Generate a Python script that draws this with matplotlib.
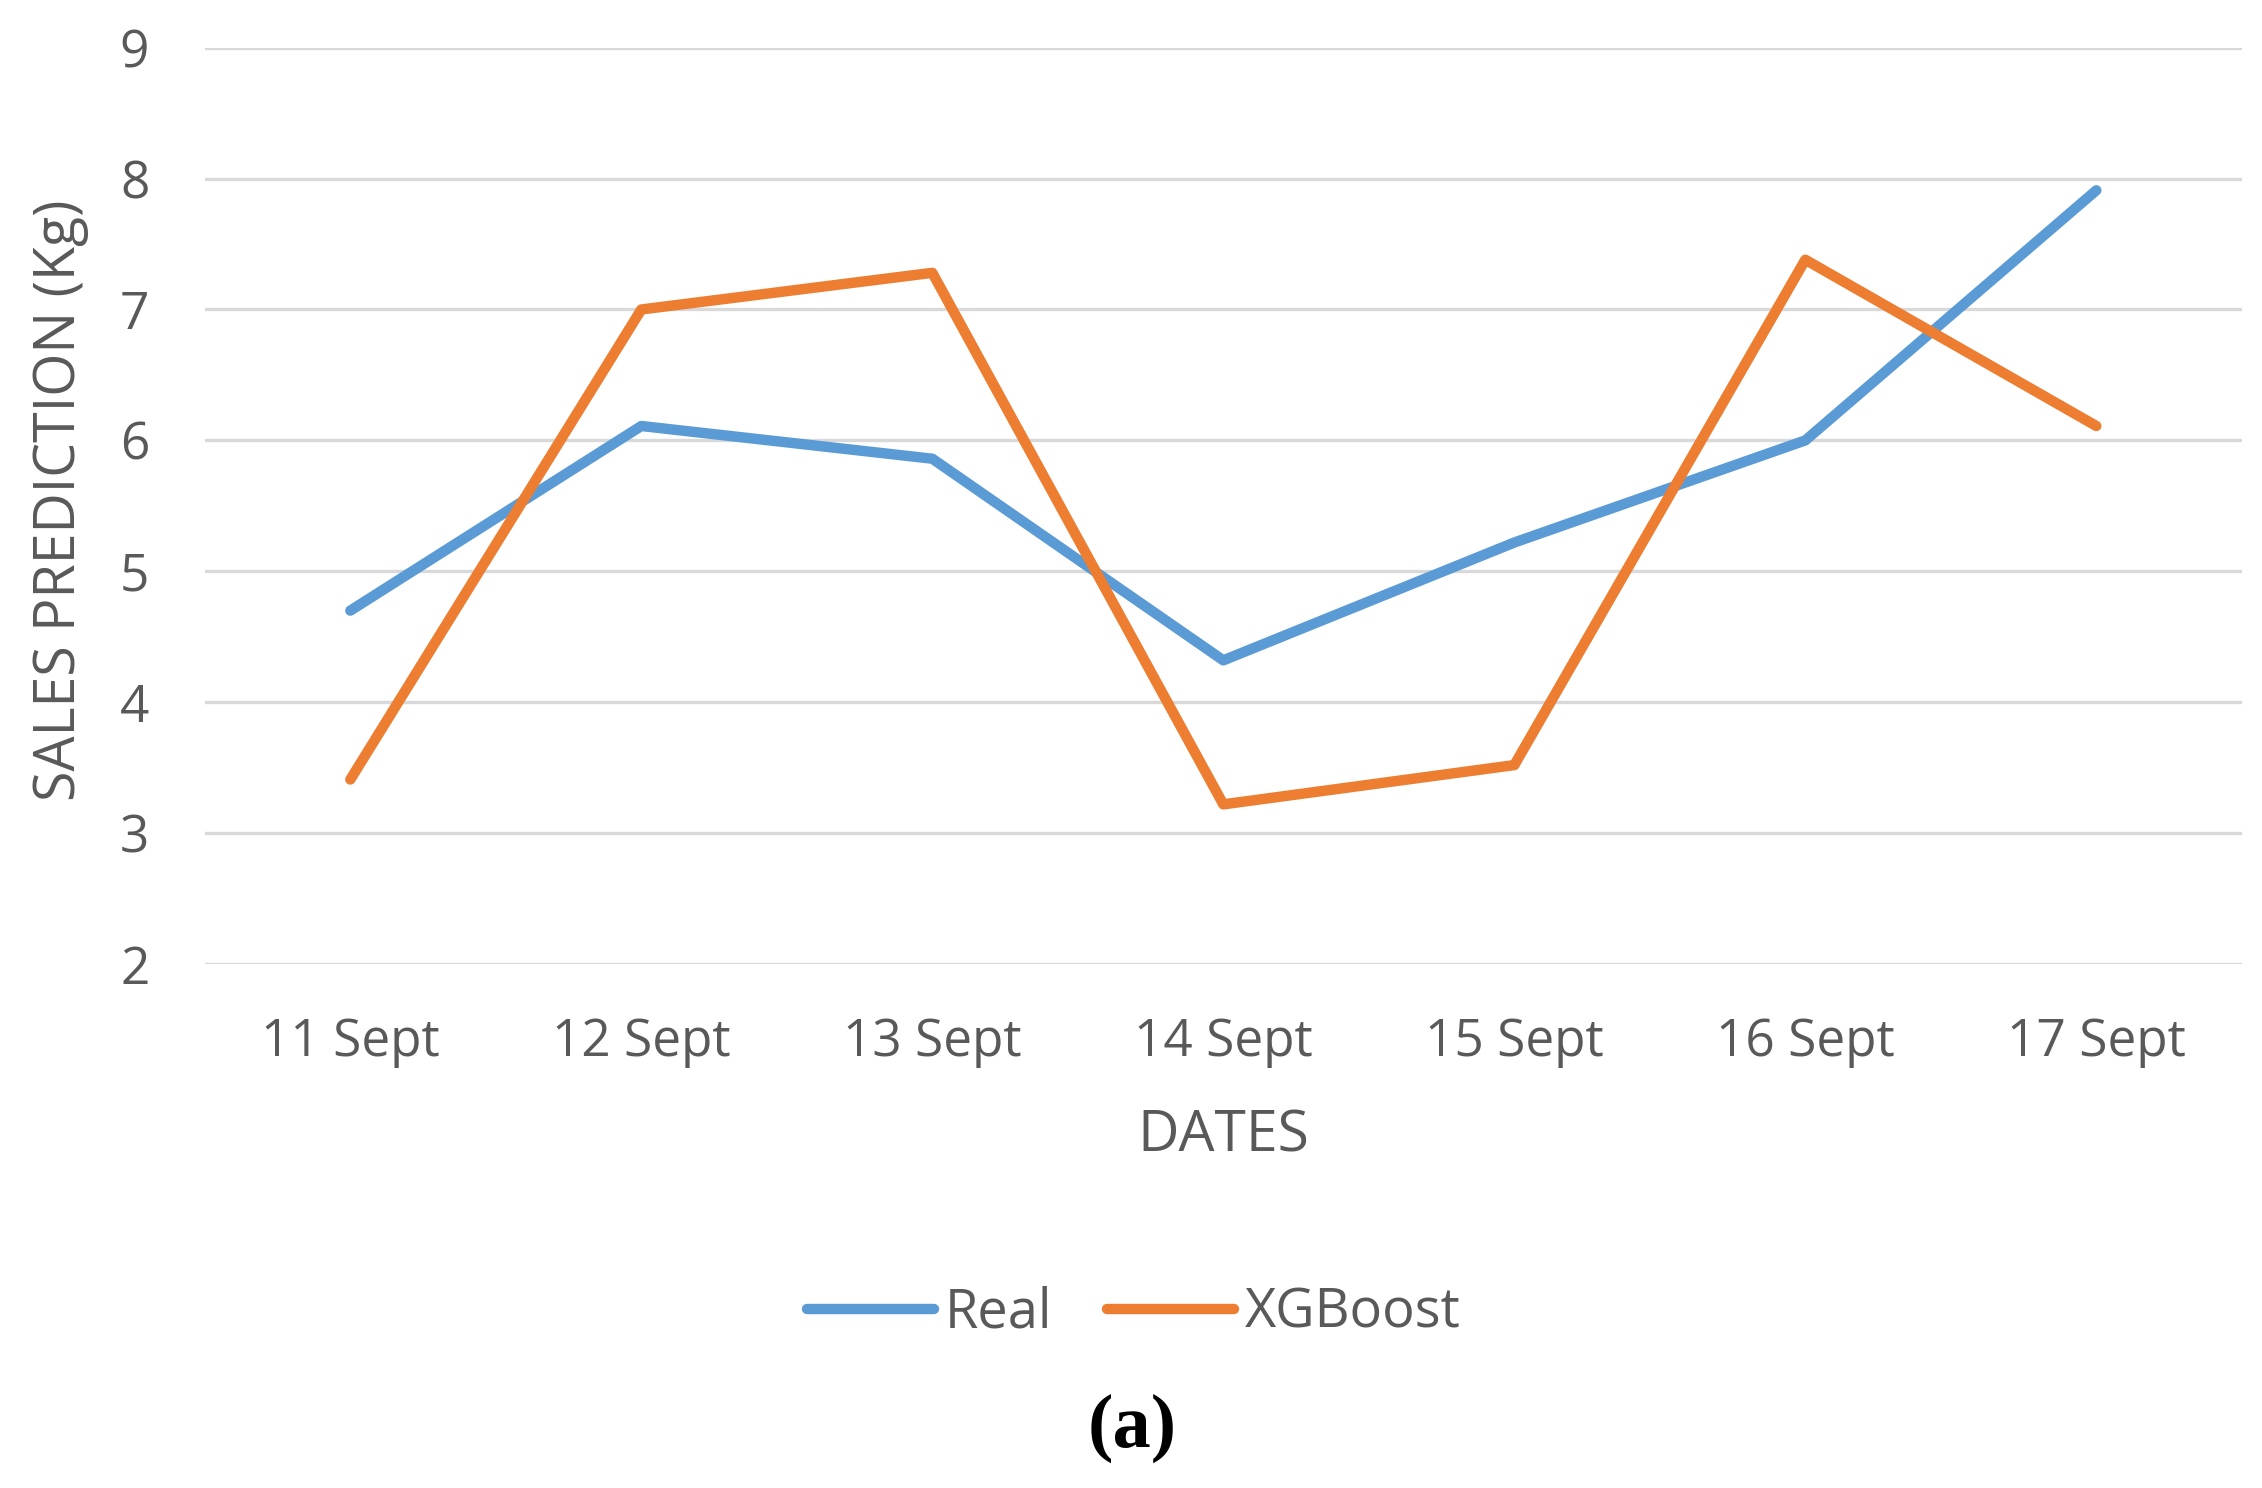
import matplotlib
matplotlib.use("Agg")
import matplotlib.pyplot as plt

# values
dates = ["11 Sept", "12 Sept", "13 Sept", "14 Sept", "15 Sept", "16 Sept", "17 Sept"]
real = [4.70, 6.11, 5.86, 4.32, 5.22, 6.00, 7.91]
xgboost = [3.41, 7.00, 7.28, 3.22, 3.52, 7.38, 6.11]

blue = "#5B9BD5"
orange = "#ED7D31"
grey = "#595959"

plt.rcParams['font.family'] = ['Open Sans', 'DejaVu Sans']

fig = plt.figure(figsize=(22.62, 14.88), dpi=100)
ax = fig.add_axes([142 / 1568, 1 - 668 / 1031, 1412 / 1568, 635 / 1031])

x = list(range(len(dates)))
a, = ax.plot(x, real, color=blue, lw=7.5, label="Real", solid_capstyle="round")
b, = ax.plot(x, xgboost, color=orange, lw=7.5, label="XGBoost", solid_capstyle="round")

ax.set_xlim(-0.5, len(dates) - 0.5)
ax.set_ylim(2, 9)
ax.set_yticks(range(2, 10))
ax.set_xticks(x)
ax.set_xticklabels(dates)
ax.grid(axis="y", color="#D9D9D9", lw=2.4)
ax.set_axisbelow(True)
for s in ax.spines.values():
    s.set_visible(False)
ax.tick_params(axis="both", length=0, colors=grey, labelsize=37)
ax.tick_params(axis="x", pad=38)
ax.tick_params(axis="y", pad=40)

ax.set_xlabel("DATES", fontsize=41, color=grey, va="center")
ax.xaxis.set_label_coords(0.5, -0.189)
ax.set_ylabel("SALES PREDICTION (Kg)", fontsize=40, color=grey, va="center")
ax.yaxis.set_label_coords(-0.071, 0.506)

fig.legend(handles=[a, b], loc="center", bbox_to_anchor=(786 / 1568, 1 - 910 / 1031),
           ncol=2, frameon=False, fontsize=39, handlelength=2.35,
           handletextpad=0.2, columnspacing=1.0, labelcolor=grey)

fig.text(785 / 1568, 1 - 990 / 1031, "(a)", ha="center", va="center",
         fontsize=55, fontweight="bold", family=["Liberation Serif", "DejaVu Serif"])

fig.savefig("out.png", dpi=100)
